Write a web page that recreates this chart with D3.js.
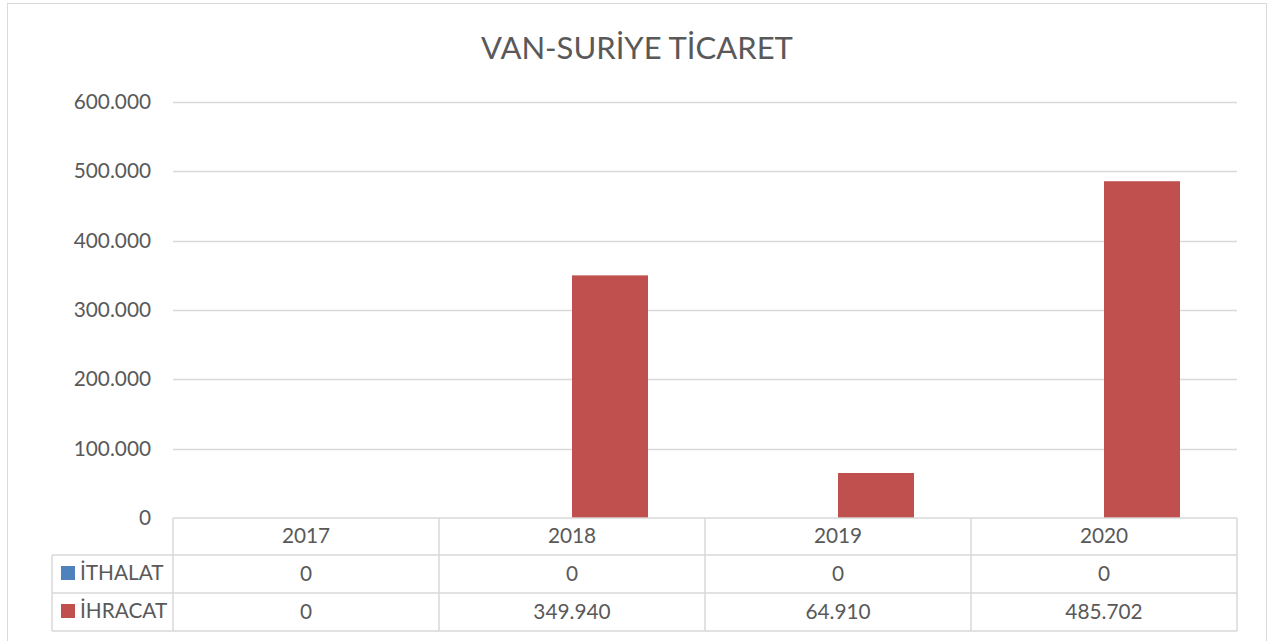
<!DOCTYPE html>
<html><head><meta charset="utf-8">
<script src="https://cdn.jsdelivr.net/npm/d3@7"></script>
<style>body{margin:0;background:#fff}svg{display:block}text{font-family:Lato,"Open Sans",sans-serif;fill:#595959}</style>
</head><body><svg id="c" width="1278" height="641"></svg>
<script>
const categories = ["2017","2018","2019","2020"];
const seriesNames = ["İTHALAT","İHRACAT"];
const ithalat = [0,0,0,0];
const ihracat = [0,349940,64910,485702];
const tableIthalat = ["0","0","0","0"];
const tableIhracat = ["0","349.940","64.910","485.702"];
const yTicks = [0,100000,200000,300000,400000,500000,600000];
const yTickLabels = ["0","100.000","200.000","300.000","400.000","500.000","600.000"];
const colors = ["#4F81BD","#C0504D"];

const svg = d3.select("#c");
svg.append("rect").attr("x",7.5).attr("y",3.5).attr("width",1259).attr("height",660).attr("fill","#fff").attr("stroke","#d9d9d9");

const pLeft=173,pRight=1237,pTop=102,pBottom=518;
const x = d3.scaleBand().domain(categories).range([pLeft,pRight]).paddingInner(0).paddingOuter(0);
const y = d3.scaleLinear().domain([0,600000]).range([pBottom,pTop]);
const sub = d3.scaleBand().domain(seriesNames).range([0,x.bandwidth()]).paddingInner(0).paddingOuter(0.75);

svg.append("text").attr("x",637).attr("y",59).attr("text-anchor","middle").style("font-size","31px").text("VAN-SURİYE TİCARET");

// gridlines
svg.append("g").selectAll("line").data(yTicks.filter(d=>d>0)).join("line")
  .attr("x1",pLeft).attr("x2",pRight).attr("y1",d=>Math.round(y(d))+0.5).attr("y2",d=>Math.round(y(d))+0.5)
  .attr("stroke","#d9d9d9").attr("stroke-width",1.3);
// y labels
svg.append("g").selectAll("text").data(yTicks).join("text")
  .attr("x",151).attr("y",d=>y(d)+7).attr("text-anchor","end").style("font-size","20.8px")
  .text((d,i)=>yTickLabels[i]);

// bars
const data = categories.map((c,i)=>({c, vals:[ithalat[i],ihracat[i]]}));
const g = svg.append("g");
data.forEach(d=>{
  d.vals.forEach((v,j)=>{
    g.append("rect").attr("x",x(d.c)+sub(seriesNames[j])).attr("width",sub.bandwidth())
     .attr("y",y(v)).attr("height",pBottom-y(v)).attr("fill",colors[j]);
  });
});

// table
const rowY=[518,555,593,631];
const tl = svg.append("g").attr("stroke","#d9d9d9").attr("stroke-width",1.5).attr("fill","none");
tl.append("line").attr("x1",pLeft).attr("x2",pRight).attr("y1",rowY[0]).attr("y2",rowY[0]);
[1,2,3].forEach(k=>tl.append("line").attr("x1",52).attr("x2",pRight).attr("y1",rowY[k]).attr("y2",rowY[k]));
tl.append("line").attr("x1",52).attr("x2",52).attr("y1",rowY[1]).attr("y2",rowY[3]);
categories.forEach(c=>tl.append("line").attr("x1",x(c)).attr("x2",x(c)).attr("y1",rowY[0]).attr("y2",rowY[3]));
tl.append("line").attr("x1",pRight).attr("x2",pRight).attr("y1",rowY[0]).attr("y2",rowY[3]);

const tt = svg.append("g").style("font-size","20.8px").attr("text-anchor","middle");
categories.forEach((c,i)=>{
  const cx = x(c)+x.bandwidth()/2;
  tt.append("text").attr("x",cx).attr("y",543).text(c);
  tt.append("text").attr("x",cx).attr("y",581).text(tableIthalat[i]);
  tt.append("text").attr("x",cx).attr("y",619).text(tableIhracat[i]);
});
seriesNames.forEach((s,j)=>{
  const cy = [573,611][j];
  svg.append("rect").attr("x",61).attr("y",cy-7).attr("width",14).attr("height",14).attr("fill",colors[j]);
  svg.append("text").attr("x",80).attr("y",cy+7).style("font-size","20.8px").text(s);
});
</script></body></html>
